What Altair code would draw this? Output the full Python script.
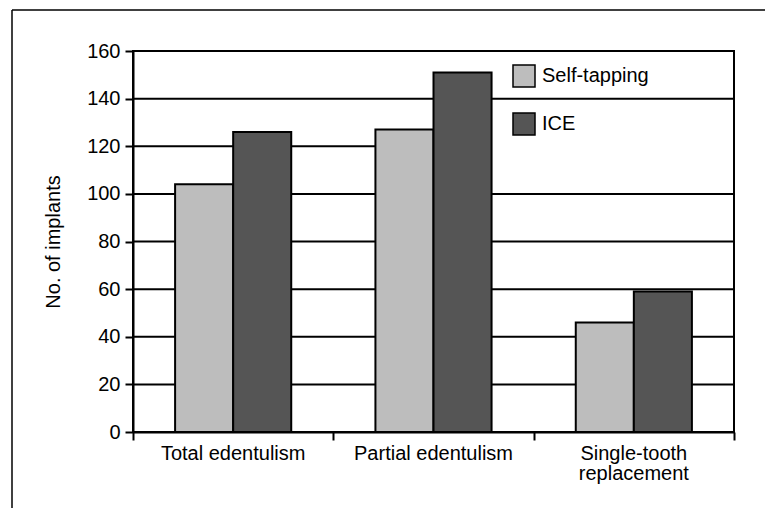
import altair as alt
import pandas as pd

categories = ["Total edentulism", "Partial edentulism", "Single-tooth replacement"]
series = ["Self-tapping", "ICE"]
self_tapping = [104, 127, 46]
ice = [126, 151, 59]
colors = ["#bdbdbd", "#555555"]

grid_values = [20, 40, 60, 80, 100, 120, 140, 160]
grid_start = [0, 0, 0, 0, 0, 0, 0, 0]
grid_end = [3, 3, 3, 3, 3, 1.5, 3, 3]
y_ticks = [0, 20, 40, 60, 80, 100, 120, 140, 160]

FONT = "Liberation Sans"
FS = 20

bars_df = pd.DataFrame({
    "category": categories * 2,
    "series": [series[0]] * 3 + [series[1]] * 3,
    "value": self_tapping + ice,
})
grid_df = pd.DataFrame({"y": grid_values, "start": grid_start, "end": grid_end})

y_enc_axis = alt.Axis(values=y_ticks, grid=False, tickSize=8, tickWidth=2, tickColor="black",
                      domainColor="black", domainWidth=2, labelFontSize=FS, labelFont=FONT,
                      labelColor="black", labelPadding=5, title="No. of implants",
                      titleFontSize=FS, titleFont=FONT, titleFontWeight="normal",
                      titleColor="black", titlePadding=23)
y_scale = alt.Scale(domain=[0, 160], nice=False)

gridlines = alt.Chart(grid_df).mark_rule(color="black", strokeWidth=2).encode(
    x=alt.X("start:Q", scale=alt.Scale(domain=[0, 3], nice=False, zero=False),
            axis=alt.Axis(orient="bottom", values=[0, 1, 2, 3], labels=False, tickSize=8,
                          tickWidth=2, tickColor="black", domainColor="black", domainWidth=2,
                          grid=False, title=None)),
    x2="end:Q",
    y=alt.Y("y:Q", scale=y_scale, axis=y_enc_axis),
)

bars = alt.Chart(bars_df).mark_bar(stroke="black", strokeWidth=2).encode(
    x=alt.X("category:N", sort=categories,
            scale=alt.Scale(paddingInner=0, paddingOuter=0),
            axis=alt.Axis(orient="bottom", ticks=False, domain=False, labelAngle=0,
                          labelPadding=11, labelFontSize=FS, labelFont=FONT, labelColor="black",
                          labelLineHeight=20, title=None,
                          labelExpr="datum.label == 'Single-tooth replacement' ? ['Single-tooth', 'replacement'] : datum.label")),
    xOffset=alt.XOffset("series:N", sort=series,
                        scale=alt.Scale(paddingOuter=0.725, paddingInner=0)),
    y=alt.Y("value:Q", scale=y_scale),
    color=alt.Color("series:N", sort=series,
                    scale=alt.Scale(domain=series, range=colors),
                    legend=alt.Legend(title=None, orient="none", legendX=379, legendY=13,
                                      symbolType="square", symbolSize=484,
                                      symbolStrokeColor="black", symbolStrokeWidth=1.5,
                                      labelFontSize=FS, labelFont=FONT, labelColor="black",
                                      labelOffset=6, rowPadding=20, padding=0)),
)

frame_df = pd.DataFrame({"k": [0]})
frame_top = alt.Chart(frame_df).mark_rule(color="black", strokeWidth=1.5).encode(
    x=alt.value(-121), x2=alt.value(700), y=alt.value(-41))
frame_left = alt.Chart(frame_df).mark_rule(color="black", strokeWidth=1.5).encode(
    x=alt.value(-121), y=alt.value(-41), y2=alt.value(520))

chart = alt.layer(gridlines, bars, frame_top, frame_left).resolve_scale(
    x="independent"
).properties(
    width=601, height=381,
    padding={"left": 133, "top": 51, "right": 31, "bottom": 76},
    autosize=alt.AutoSizeParams(type="none"),
    background="white",
).configure_view(stroke="black", strokeWidth=2)

chart.save("out.html", embed_options={"renderer": "svg", "actions": False})
